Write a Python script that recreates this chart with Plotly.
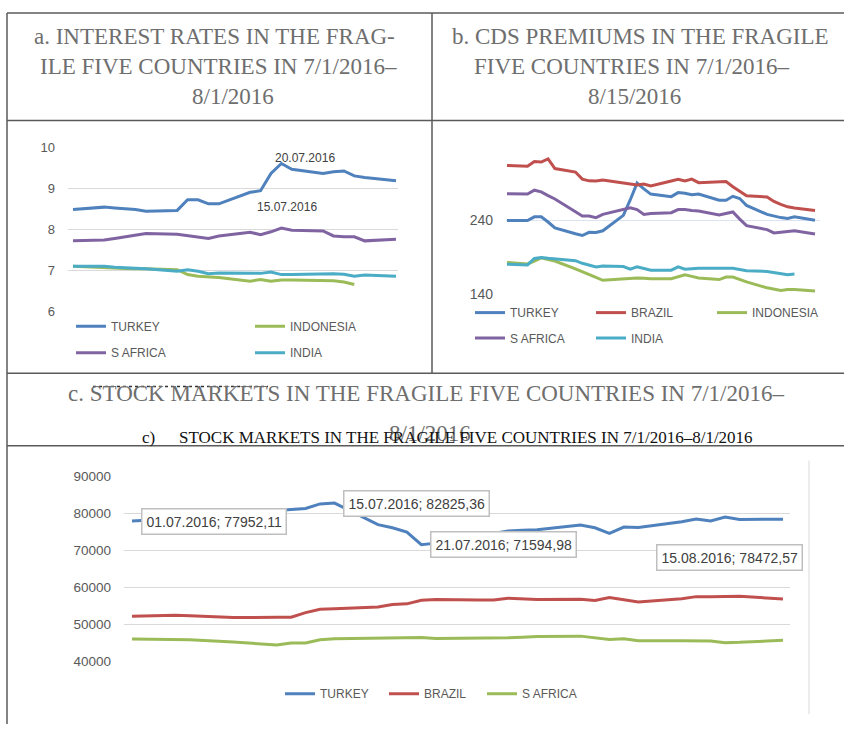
import plotly.graph_objects as go

W, H = 844, 732


def px(x):
    return x / W


def py(y):
    return 1 - y / H


SANS = "Liberation Sans, Arial, sans-serif"
SERIF = "Liberation Serif, Times New Roman, serif"

BLUE = "#4F81BD"
RED = "#C0504D"
GREEN = "#9BBB59"
PURPLE = "#8064A2"
CYAN = "#4BACC6"

# ---------------- data ----------------
# a. interest rates
dates_a = ["2016-07-01", "2016-07-04", "2016-07-05", "2016-07-06", "2016-07-07", "2016-07-08",
           "2016-07-11", "2016-07-12", "2016-07-13", "2016-07-14", "2016-07-15",
           "2016-07-18", "2016-07-19", "2016-07-20", "2016-07-21", "2016-07-22",
           "2016-07-25", "2016-07-26", "2016-07-27", "2016-07-28", "2016-07-29",
           "2016-08-01"]
rate_turkey = [8.48, 8.54, 8.52, 8.50, 8.48, 8.44, 8.46, 8.72, 8.72, 8.62, 8.62,
               8.90, 8.94, 9.36, 9.60, 9.46, 9.36, 9.40, 9.42, 9.30, 9.26, 9.18]
rate_indonesia = [7.10, 7.06, 7.05, 7.05, 7.04, 7.04, 7.02, 6.90, 6.86, 6.85, 6.83,
                  6.74, 6.78, 6.74, 6.77, 6.77, 6.76, 6.75, 6.72, 6.66, None, None]
rate_safrica = [7.72, 7.74, 7.78, 7.82, 7.86, 7.90, 7.88, 7.85, 7.82, 7.78, 7.84,
                7.93, 7.87, 7.94, 8.03, 7.98, 7.96, 7.84, 7.82, 7.82, 7.72, 7.76]
rate_india = [7.10, 7.10, 7.08, 7.07, 7.06, 7.04, 6.98, 7.02, 6.98, 6.92, 6.94,
              6.93, 6.93, 6.96, 6.90, 6.90, 6.92, 6.92, 6.91, 6.86, 6.89, 6.86]
ticks_a = [6, 7, 8, 9, 10]
notes_a = ["20.07.2016", "15.07.2016"]

# b. CDS premiums and c. stock markets
dates_b = ["2016-07-01", "2016-07-04", "2016-07-05", "2016-07-06", "2016-07-07", "2016-07-08",
           "2016-07-11", "2016-07-12", "2016-07-13", "2016-07-14", "2016-07-15",
           "2016-07-18", "2016-07-19", "2016-07-20", "2016-07-21", "2016-07-22",
           "2016-07-25", "2016-07-26", "2016-07-27", "2016-07-28", "2016-07-29",
           "2016-08-01", "2016-08-02", "2016-08-03", "2016-08-04", "2016-08-05",
           "2016-08-08", "2016-08-09", "2016-08-10", "2016-08-11", "2016-08-12",
           "2016-08-15"]
cds_turkey = [240, 240, 245, 245, 238, 230, 222, 219.6, 224, 223.6, 226,
              247, 268, 291, 283, 276, 272.5, 278, 277, 275, 276,
              267.6, 267.6, 273, 270, 260.5, 248.4, 246, 244, 242.7, 245, 240.4]
cds_brazil = [315, 313.8, 320.4, 319.6, 324, 310.7, 306, 296.4, 294, 293.8, 295,
              291.6, 290, 288.4, 289.8, 287, 293.8, 296, 293.8, 296.4, 291.6,
              292.4, 293, 286, 280, 273.8, 272, 266, 262, 258.7, 257, 253.8]
cds_indonesia = [183, 181, 184.9, 189.3, 187, 184.9, 174.2, 170.7, 166.7, 162.7, 158.7,
                 160.9, 161.4, 161.8, 161.3, 160.9, 160.9, 163.5, 166.2, 164, 161.8,
                 159.6, 163.1, 163.1, 160, 156.4, 148.4, 146.5, 144.9, 146.2, 146.2, 144]
cds_safrica = [276.4, 276, 281.3, 279, 274, 269.3, 252, 246.2, 246.2, 244, 248.4,
               255, 257.3, 255, 248.4, 249.5, 250.7, 255, 255, 253.8, 252.9,
               247.6, 249.5, 251.6, 242, 233, 227.6, 223.1, 224, 224.9, 226.2, 221.8]
cds_india = [180.5, 179.6, 188.4, 189.8, 188.7, 187.6, 185.3, 181.8, 179.4, 176.9, 178.2,
             177.3, 173.8, 176.9, 174.6, 172.4, 172.4, 176.9, 173.8, 174.5, 175.1,
             175.1, 175.1, 175.1, 173.4, 171.6, 170.7, 169, 167.1, 166.2, 167.1, None]
ticks_b = [140, 240]

stock_turkey = [77952.11, 78500, 78800, 79000, 79500, 80000, 80800, 81100, 81360, 82590, 82825.36,
                77000, 76150, 75000, 71594.98, 72000, 74000, 74800, 75300, 75450, 75600,
                76860, 76150, 74660, 76330, 76240, 77800, 78540, 78000, 79060, 78360, 78472.57]
stock_brazil = [52260, 52520, 52370, 52220, 52060, 51900, 51950, 52000, 53230, 54110, 54250,
                54730, 55430, 55600, 56580, 56750, 56650, 56670, 57100, 56900, 56750,
                56840, 56500, 57280, 56700, 56130, 57000, 57550, 57550, 57550, 57630, 56930]
stock_safrica = [46090, 46090, 45900, 45700, 45500, 45300, 44500, 45030, 45030, 45900, 46180,
                 46440, 46350, 46620, 46530, 46270, 46300, 46350, 46440, 46600, 46800,
                 46880, 46500, 46000, 46180, 45650, 45600, 45560, 45560, 45120, 45210, 45740]
ticks_c = [40000, 50000, 60000, 70000, 80000, 90000]
labelled_c = [0, 10, 14, 31]

title_a = ["a. INTEREST RATES IN THE FRAG-", "ILE FIVE COUNTRIES IN 7/1/2016–", "8/1/2016"]
title_b = ["b. CDS PREMIUMS IN THE FRAGILE", "FIVE COUNTRIES IN 7/1/2016–", "8/15/2016"]
title_c = ["c. STOCK MARKETS IN THE FRAGILE FIVE COUNTRIES IN 7/1/2016–", "8/1/2016"]
subtitle_c = ["c)", "STOCK MARKETS IN THE FRAGILE FIVE COUNTRIES IN 7/1/2016–8/1/2016"]

# ---------------- figure ----------------
fig = go.Figure()


def add(x, y, name, color, xa, ya, leg):
    fig.add_trace(go.Scatter(x=x, y=y, name=name, mode="lines",
                             line=dict(color=color, width=3),
                             xaxis=xa, yaxis=ya, legend=leg, hoverinfo="skip"))


add(dates_a, rate_turkey, "TURKEY", BLUE, "x", "y", "legend")
add(dates_a, rate_indonesia, "INDONESIA", GREEN, "x", "y", "legend2")
add(dates_a, rate_safrica, "S AFRICA", PURPLE, "x", "y", "legend3")
add(dates_a, rate_india, "INDIA", CYAN, "x", "y", "legend4")

add(dates_b, cds_turkey, "TURKEY", BLUE, "x2", "y2", "legend5")
add(dates_b, cds_brazil, "BRAZIL", RED, "x2", "y2", "legend6")
add(dates_b, cds_indonesia, "INDONESIA", GREEN, "x2", "y2", "legend7")
add(dates_b, cds_safrica, "S AFRICA", PURPLE, "x2", "y2", "legend8")
add(dates_b, cds_india, "INDIA", CYAN, "x2", "y2", "legend9")

add(dates_b, stock_turkey, "TURKEY", BLUE, "x3", "y3", "legend10")
add(dates_b, stock_brazil, "BRAZIL", RED, "x3", "y3", "legend11")
add(dates_b, stock_safrica, "S AFRICA", GREEN, "x3", "y3", "legend12")


def leg(x, y, size=12):
    return dict(orientation="h", x=px(x), y=py(y), xanchor="left", yanchor="middle",
                bgcolor="rgba(0,0,0,0)", borderwidth=0, itemwidth=30,
                font=dict(family=SANS, size=size, color="#595959"))


def yax(dom, rng, ticks, size, grid, anchor):
    return dict(domain=dom, range=rng, tickvals=ticks, showgrid=True, gridcolor=grid,
                gridwidth=1, zeroline=False, showline=False, ticks="",
                ticklabelstandoff=12, anchor=anchor, tickformat="d",
                tickfont=dict(family=SANS, size=size, color="#595959"))


layout = dict(
    width=W, height=H, autosize=False,
    margin=dict(l=0, r=0, t=0, b=0),
    paper_bgcolor="white", plot_bgcolor="white",
    showlegend=True,
    xaxis=dict(domain=[px(68), px(398)], range=["2016-06-30 12:29", "2016-08-01 04:36"],
               visible=False, anchor="y"),
    yaxis=yax([py(311), py(143)], [6, 10], ticks_a, 13, "#d9d9d9", "x"),
    xaxis2=dict(domain=[px(506), px(820)], range=["2016-06-30 20:30", "2016-08-15 17:30"],
                visible=False, anchor="y2"),
    yaxis2=yax([py(293), py(139.25)], [140, 345], ticks_b, 14, "#dbe4f0", "x2"),
    xaxis3=dict(domain=[px(124), px(790)], range=["2016-06-30 10:43", "2016-08-15 11:37"],
                visible=False, anchor="y3"),
    yaxis3=yax([py(668.3), py(479.3)], [40000, 90000], ticks_c, 13.5, "#d9d9d9", "x3"),
    legend=leg(71, 326), legend2=leg(250, 326), legend3=leg(71, 353), legend4=leg(250, 353),
    legend5=leg(470, 312), legend6=leg(591, 312), legend7=leg(712, 312),
    legend8=leg(470, 338), legend9=leg(591, 338),
    legend10=leg(280, 701), legend11=leg(384, 701), legend12=leg(482, 701),
)
fig.update_layout(**layout)

ann = []


def text(x, y, s, size, color, family, xanchor="center"):
    ann.append(dict(x=px(x), y=py(y), xref="paper", yref="paper", text=s, showarrow=False,
                    xanchor=xanchor, yanchor="middle",
                    font=dict(family=family, size=size, color=color)))


TG = "#6e6e6e"
for (cx, cy), s in zip([(214, 30), (218, 61), (233, 91)], title_a):
    text(cx, cy, s, 23, TG, SERIF)
for (cx, cy), s in zip([(640, 30), (631, 61), (634, 91)], title_b):
    text(cx, cy, s, 23, TG, SERIF)
text(426.5, 395, title_c[0], 23, TG, SERIF)
text(430, 435, title_c[1], 23, TG, SERIF)
text(140, 439, subtitle_c[0], 17, "#111111", SERIF, "left")
text(176.7, 439, subtitle_c[1], 17, "#111111", SERIF, "left")

text(305, 154, notes_a[0], 12, "#404040", SANS)
text(287, 204, notes_a[1], 12, "#404040", SANS)

shifts_c = [(82, 0), (82, 0), (82.6, 0), (-54, -38)]
for i, (dx, dy) in zip(labelled_c, shifts_c):
    d = dates_b[i]
    lbl = f"{d[8:10]}.{d[5:7]}.{d[0:4]}; " + f"{stock_turkey[i]:.2f}".replace(".", ",")
    ann.append(dict(x=d, y=stock_turkey[i], xref="x3", yref="y3", text=lbl, showarrow=False,
                    xanchor="center", yanchor="middle", xshift=dx, yshift=dy,
                    bgcolor="white", bordercolor="#bfbfbf", borderwidth=1.5, borderpad=4,
                    font=dict(family=SANS, size=14, color="#404040")))

fig.update_layout(annotations=ann)

LC = "#5a5a5a"
shapes = []


def line(x0, y0, x1, y1, color=LC, width=1.5, dash="solid"):
    shapes.append(dict(type="line", xref="paper", yref="paper", x0=px(x0), y0=py(y0),
                       x1=px(x1), y1=py(y1), line=dict(color=color, width=width, dash=dash)))


line(7, 6, 844, 6)
line(7, 6, 7, 732)
line(7, 116, 844, 116)
line(432, 6, 432, 374)
line(7, 374, 844, 374)
line(7, 448, 844, 448)
line(93, 387.5, 268, 387.5, color="#333333", width=1.5, dash="dot")
line(809, 463, 809, 722, color="#d9d9d9", width=1)
fig.update_layout(shapes=shapes)

fig.write_html("out.html",
               config={"displayModeBar": False, "staticPlot": True},
               post_script="document.body.style.margin='0px';"
                           "document.body.style.overflow='hidden';")
